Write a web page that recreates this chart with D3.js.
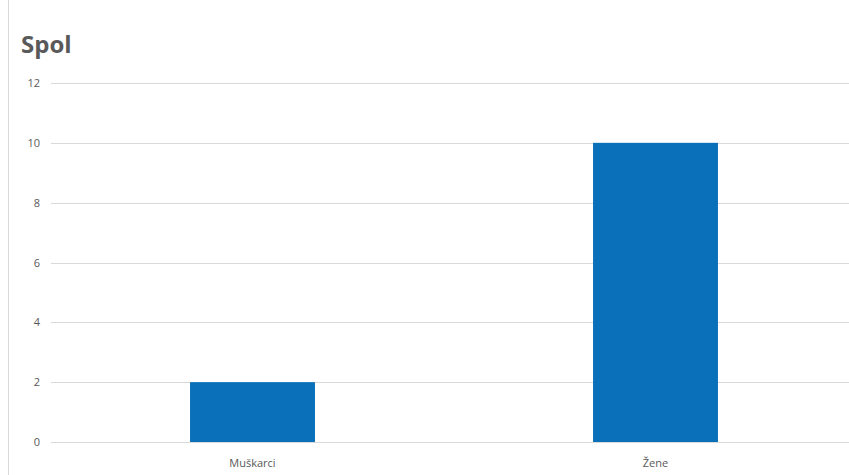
<!DOCTYPE html>
<html>
<head>
<meta charset="utf-8">
<script src="https://cdn.jsdelivr.net/npm/d3@7"></script>
<style>
  body { margin: 0; background: #fff; }
  svg { display: block; font-family: "Open Sans", "Noto Sans", sans-serif; }
</style>
</head>
<body>
<div id="chart"></div>
<script>
// Data
const categories = ["Muškarci", "Žene"];
const values = [2, 10];
const yTicks = [0, 2, 4, 6, 8, 10, 12];

const width = 849;
const height = 475;
const margin = { top: 83, right: -8, bottom: 33, left: 51 };

const svg = d3.select("#chart")
  .append("svg")
    .attr("width", width)
    .attr("height", height);

// left frame edge
svg.append("line")
  .attr("x1", 8.5).attr("x2", 8.5)
  .attr("y1", 0).attr("y2", height)
  .attr("stroke", "#d9d9d9");

svg.append("text")
  .attr("x", 21)
  .attr("y", 53)
  .attr("fill", "#595959")
  .style("font-size", "24px")
  .style("font-weight", 700)
  .text("Spol");

const x = d3.scaleBand()
  .domain(categories)
  .range([margin.left, width - margin.right])
  .paddingInner(0.69)
  .paddingOuter(0.345);

const y = d3.scaleLinear()
  .domain([0, 12])
  .range([height - margin.bottom, margin.top]);

// Gridlines
svg.append("g")
  .selectAll("line")
  .data(yTicks)
  .join("line")
    .attr("x1", margin.left)
    .attr("x2", width)
    .attr("y1", d => Math.round(y(d)) + 0.5)
    .attr("y2", d => Math.round(y(d)) + 0.5)
    .attr("stroke", "#d9d9d9")
    .attr("stroke-width", 1);

// Y tick labels
svg.append("g")
  .selectAll("text")
  .data(yTicks)
  .join("text")
    .attr("x", 40)
    .attr("y", d => y(d) + 4)
    .attr("text-anchor", "end")
    .attr("fill", "#595959")
    .style("font-size", "11px")
    .text(d => d);

// Bars
svg.append("g")
  .selectAll("rect")
  .data(values)
  .join("rect")
    .attr("x", (d, i) => x(categories[i]))
    .attr("y", d => y(d))
    .attr("width", x.bandwidth())
    .attr("height", d => y(0) - y(d))
    .attr("fill", "#0a70ba");

// Category labels
svg.append("g")
  .selectAll("text")
  .data(categories)
  .join("text")
    .attr("x", d => x(d) + x.bandwidth() / 2)
    .attr("y", 467)
    .attr("text-anchor", "middle")
    .attr("fill", "#595959")
    .style("font-size", "11px")
    .text(d => d);
</script>
</body>
</html>
